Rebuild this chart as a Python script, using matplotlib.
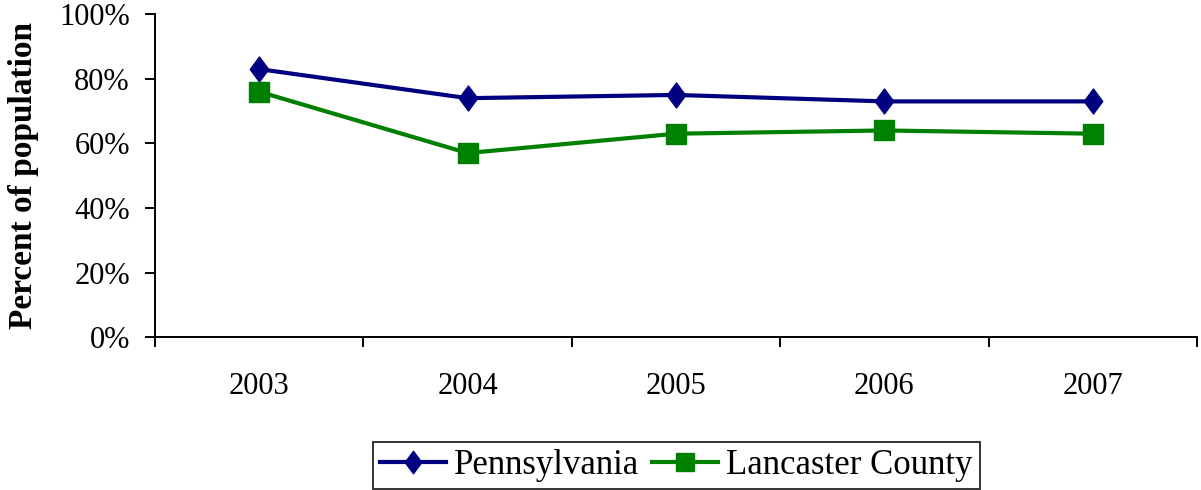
import numpy as np
import matplotlib.pyplot as plt
from matplotlib.path import Path
from matplotlib.ticker import FixedLocator, NullFormatter, FixedFormatter

plt.rcParams['font.family'] = ['Liberation Serif', 'DejaVu Serif']

# Data
years = ['2003', '2004', '2005', '2006', '2007']
pennsylvania = [83, 74, 75, 73, 73]
lancaster = [76, 57, 63, 64, 63]
y_ticks = [0, 20, 40, 60, 80, 100]

# slightly tall diamond like the original
diamond = Path([(0, 1), (0.74, 0), (0, -1), (-0.74, 0), (0, 1)],
               [Path.MOVETO, Path.LINETO, Path.LINETO, Path.LINETO, Path.CLOSEPOLY])

fig = plt.figure(figsize=(12.01, 4.90), dpi=100)
ax = fig.add_axes([0.129, 0.312, 0.8677, 0.659])

x = np.arange(len(years))
ax.plot(x, pennsylvania, color='#000080', lw=3, marker=diamond, ms=18,
        label='Pennsylvania')
ax.plot(x, lancaster, color='#008000', lw=3, marker='s', ms=15,
        label='Lancaster County')

ax.set_xlim(-0.5, len(years) - 0.5)
ax.set_ylim(0, 100)

# category boundaries get tick marks, labels sit between them
ax.xaxis.set_major_locator(FixedLocator(np.arange(-0.5, len(years), 1.0)))
ax.xaxis.set_major_formatter(NullFormatter())
ax.xaxis.set_minor_locator(FixedLocator(x))
ax.xaxis.set_minor_formatter(FixedFormatter(years))
ax.tick_params(axis='x', which='major', length=7, width=1.4, direction='out')
ax.tick_params(axis='x', which='minor', length=0, pad=25, labelsize=22)

ax.set_yticks(y_ticks)
ax.set_yticklabels([f'{v}%' for v in y_ticks])
ax.tick_params(axis='y', length=7, width=1.4, direction='out', labelsize=22, pad=11)

for side in ['top', 'right']:
    ax.spines[side].set_visible(False)
for side in ['left', 'bottom']:
    ax.spines[side].set_linewidth(1.4)

ax.set_ylabel('Percent of population', fontsize=24, fontweight='bold')
ax.yaxis.set_label_coords(-0.111, 0.5)

leg = fig.legend(loc='lower center', bbox_to_anchor=(0.563, 0.002), ncol=2,
                 frameon=True, fancybox=False, edgecolor='black', fontsize=25,
                 handlelength=1.9, handletextpad=0.25, columnspacing=0.35,
                 borderpad=0.2, borderaxespad=0.0, markerscale=0.9)
leg.get_frame().set_linewidth(1.4)

plt.savefig('out.png', dpi=100)
